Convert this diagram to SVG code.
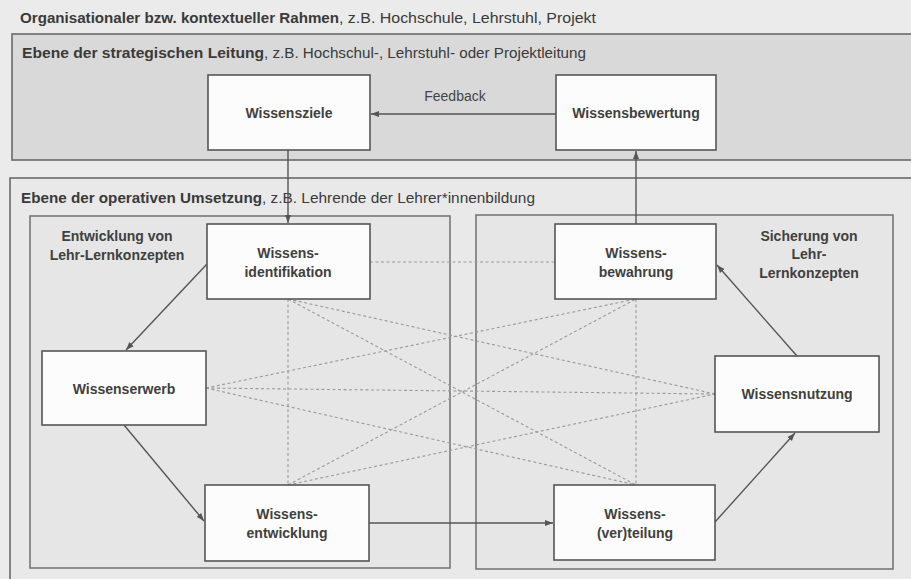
<svg xmlns="http://www.w3.org/2000/svg" width="911" height="579" viewBox="0 0 911 579">
<style>
  text { font-family: "Liberation Sans", Arial, sans-serif; fill: #3a3a3a; }
  .hdr { font-size: 14px; }
  .b { font-weight: bold; }
  .lbl { font-size: 14px; font-weight: bold; text-anchor: middle; fill: #404040; }
  .box { fill: #fcfcfc; stroke: #555; stroke-width: 1.6; }
  .panel { stroke: #6a6a6a; stroke-width: 1.6; }
  .sub { fill: #e6e6e6; stroke: #777; stroke-width: 1.6; }
  .dash { stroke: #9a9a9a; stroke-width: 1.1; stroke-dasharray: 3 2.5; fill: none; }
  .arr { stroke: #555; stroke-width: 1.4; fill: none; marker-end: url(#ah); }
</style>
<defs>
  <marker id="ah" markerUnits="userSpaceOnUse" markerWidth="9" markerHeight="7" refX="8" refY="3.5" orient="auto">
    <path d="M0,0.5 L8,3.5 L0,6.5 z" fill="#555"/>
  </marker>
</defs>
<rect x="0" y="0" width="911" height="579" fill="#ebebeb"/>

<g id="frame-organisation">
  <text class="hdr b" x="20" y="23" textLength="319" lengthAdjust="spacingAndGlyphs">Organisationaler bzw. kontextueller Rahmen</text>
  <text class="hdr" x="339" y="23" textLength="257" lengthAdjust="spacingAndGlyphs">, z.B. Hochschule,  Lehrstuhl,  Projekt</text>
</g>

<g id="panel-strategic">
  <rect class="panel" x="12" y="34" width="930" height="126" fill="#d9d9d9"/>
  <text class="hdr b" x="22" y="58" textLength="242" lengthAdjust="spacingAndGlyphs">Ebene der strategischen Leitung</text>
  <text class="hdr" x="264" y="58" textLength="322" lengthAdjust="spacingAndGlyphs">, z.B. Hochschul-,  Lehrstuhl-  oder Projektleitung</text>
</g>

<g id="panel-operative">
  <rect class="panel" x="10" y="178" width="930" height="420" fill="#e9e9e9"/>
  <text class="hdr b" x="21" y="203" textLength="241" lengthAdjust="spacingAndGlyphs">Ebene der operativen Umsetzung</text>
  <text class="hdr" x="262" y="203" textLength="273" lengthAdjust="spacingAndGlyphs">, z.B. Lehrende der Lehrer*innenbildung</text>
</g>

<g id="panel-entwicklung">
  <rect class="sub" x="30" y="216" width="420" height="352"/>
  <text class="lbl" x="117" y="241">Entwicklung von</text>
  <text class="lbl" x="117" y="260">Lehr-Lernkonzepten</text>
</g>

<g id="panel-sicherung">
  <rect class="sub" x="476" y="215" width="417" height="354"/>
  <text class="lbl" x="809" y="241">Sicherung von</text>
  <text class="lbl" x="809" y="259">Lehr-</text>
  <text class="lbl" x="809" y="278">Lernkonzepten</text>
</g>

<g id="connectors">
  <g id="dashed-links">
    <line class="dash" x1="370" y1="262" x2="555" y2="262"/>
    <line class="dash" x1="288" y1="299" x2="288" y2="485"/>
    <line class="dash" x1="288" y1="299" x2="715" y2="394"/>
    <line class="dash" x1="288" y1="299" x2="636" y2="485"/>
    <line class="dash" x1="206" y1="388" x2="715" y2="394"/>
    <line class="dash" x1="206" y1="388" x2="636" y2="299"/>
    <line class="dash" x1="206" y1="388" x2="636" y2="485"/>
    <line class="dash" x1="288" y1="485" x2="636" y2="299"/>
    <line class="dash" x1="288" y1="485" x2="715" y2="394"/>
    <line class="dash" x1="636" y1="299" x2="636" y2="485"/>
  </g>
  <line class="arr" x1="556" y1="114" x2="371" y2="114"/>
  <text x="455" y="101" style="font-size:14px;text-anchor:middle;fill:#454545">Feedback</text>
  <line class="arr" x1="288" y1="150" x2="288" y2="223"/>
  <line class="arr" x1="636" y1="224" x2="636" y2="151"/>
  <line class="arr" x1="207" y1="264" x2="126" y2="350"/>
  <line class="arr" x1="124" y1="425" x2="204" y2="521"/>
  <line class="arr" x1="369" y1="523" x2="553" y2="523"/>
  <line class="arr" x1="715" y1="522" x2="795" y2="433"/>
  <line class="arr" x1="797" y1="356" x2="717" y2="265"/>
</g>

<g id="node-wissensziele">
  <rect class="box" x="208" y="75" width="162" height="75"/>
  <text class="lbl" x="289" y="118">Wissensziele</text>
</g>
<g id="node-wissensbewertung">
  <rect class="box" x="556" y="75" width="160" height="75"/>
  <text class="lbl" x="636" y="118">Wissensbewertung</text>
</g>
<g id="node-wissensidentifikation">
  <rect class="box" x="207" y="224" width="163" height="75"/>
  <text class="lbl" x="288" y="258">Wissens-</text>
  <text class="lbl" x="288" y="277">identifikation</text>
</g>
<g id="node-wissenserwerb">
  <rect class="box" x="42" y="351" width="164" height="74"/>
  <text class="lbl" x="124" y="394">Wissenserwerb</text>
</g>
<g id="node-wissensentwicklung">
  <rect class="box" x="205" y="485" width="164" height="76"/>
  <text class="lbl" x="287" y="519">Wissens-</text>
  <text class="lbl" x="287" y="538">entwicklung</text>
</g>
<g id="node-wissensbewahrung">
  <rect class="box" x="555" y="224" width="161" height="75"/>
  <text class="lbl" x="636" y="258">Wissens-</text>
  <text class="lbl" x="636" y="277">bewahrung</text>
</g>
<g id="node-wissensnutzung">
  <rect class="box" x="715" y="356" width="164" height="76"/>
  <text class="lbl" x="797" y="399">Wissensnutzung</text>
</g>
<g id="node-wissensverteilung">
  <rect class="box" x="554" y="485" width="161" height="75"/>
  <text class="lbl" x="635" y="519">Wissens-</text>
  <text class="lbl" x="635" y="538">(ver)teilung</text>
</g>
</svg>
